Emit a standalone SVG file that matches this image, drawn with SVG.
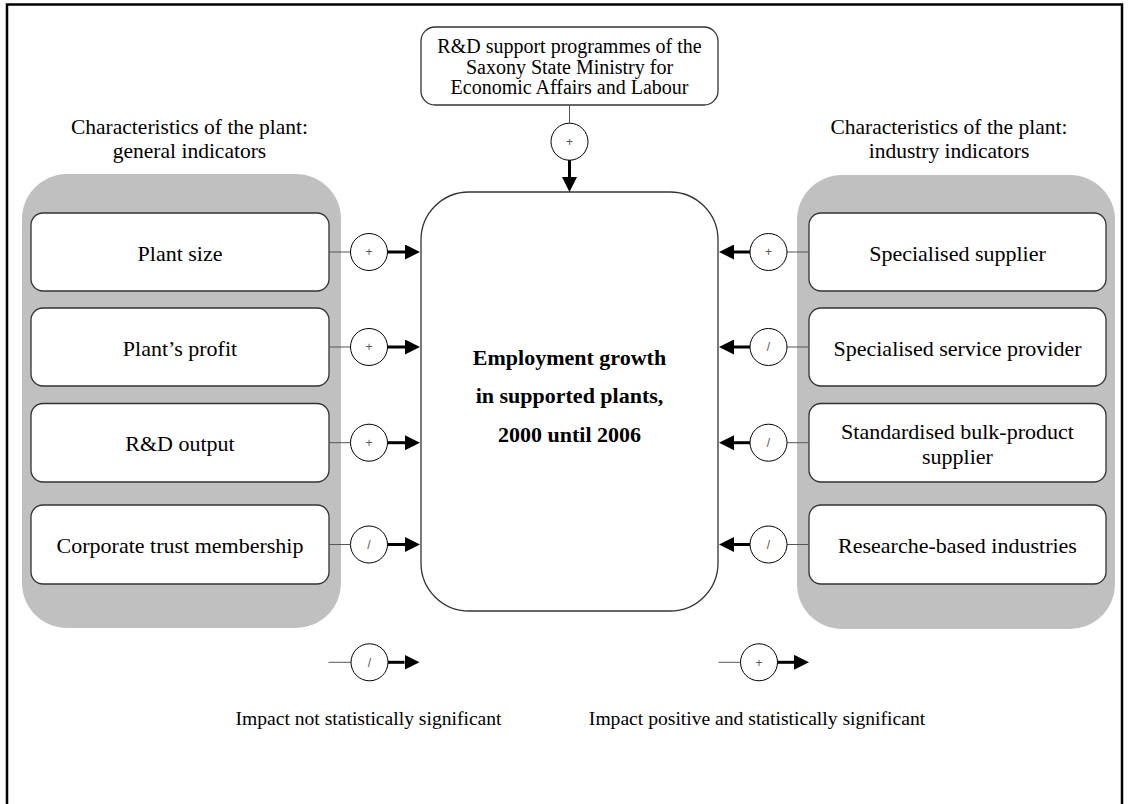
<svg xmlns="http://www.w3.org/2000/svg" width="1128" height="804" viewBox="0 0 1128 804">
<defs>
<style>
.t{font-family:"Liberation Serif","Times New Roman",serif;font-size:22px;fill:#000;text-anchor:middle}
.ttl{font-size:21.5px}
.top{font-size:20px}
.b{font-weight:bold}
.leg{font-size:19.6px}
.panel{fill:#c0c0c0;stroke:none}
.box{fill:#fff;stroke:#333;stroke-width:1.3}
.sig{fill:#fff;stroke:#000;stroke-width:1}
.sym{font-family:"Liberation Sans",Arial,sans-serif;font-size:12px;fill:#555;text-anchor:middle}
.thin{stroke:#555;stroke-width:1;fill:none}
.thick{stroke:#000;stroke-width:3;fill:none;marker-end:url(#ah)}
</style>
<marker id="ah" markerUnits="userSpaceOnUse" markerWidth="15" markerHeight="15" refX="0" refY="7.5" orient="auto" viewBox="0 0 15 15">
<path d="M0,0 L15,7.5 L0,15 z" fill="#000"/>
</marker>
</defs>
<rect x="7" y="4.5" width="1115" height="830" fill="#fff" stroke="#000" stroke-width="2.5"/>

<g id="panel-left">
<rect class="panel" x="22" y="174" width="319" height="454" rx="45"/>
<text class="t ttl" x="189.5" y="134">Characteristics of the plant:</text>
<text class="t ttl" x="189.5" y="157.5">general indicators</text>
</g>
<g id="panel-right">
<rect class="panel" x="797" y="175" width="318" height="454" rx="45"/>
<text class="t ttl" x="949" y="134">Characteristics of the plant:</text>
<text class="t ttl" x="949" y="157.5">industry indicators</text>
</g>

<g id="node-programmes">
<rect class="box" x="421" y="27" width="297" height="78" rx="14"/>
<text class="t top" x="569.5" y="53">R&amp;D support programmes of the</text>
<text class="t top" x="569.5" y="73.5">Saxony State Ministry for</text>
<text class="t top" x="569.5" y="94">Economic Affairs and Labour</text>
</g>

<g id="node-employment">
<rect class="box" x="421" y="192" width="297" height="419" rx="48"/>
<text class="t b" x="569.5" y="365">Employment growth</text>
<text class="t b" x="569.5" y="403">in supported plants,</text>
<text class="t b" x="569.5" y="441.5">2000 until 2006</text>
</g>

<g id="node-plant-size">
<rect class="box" x="31" y="213" width="298" height="78" rx="12"/>
<text class="t" x="180" y="260.5">Plant size</text>
</g>
<g id="node-plant-profit">
<rect class="box" x="31" y="308" width="298" height="78" rx="12"/>
<text class="t" x="180" y="355.5">Plant’s profit</text>
</g>
<g id="node-rd-output">
<rect class="box" x="31" y="403.5" width="298" height="78.5" rx="12"/>
<text class="t" x="180" y="451">R&amp;D output</text>
</g>
<g id="node-corporate">
<rect class="box" x="31" y="505" width="298" height="79" rx="12"/>
<text class="t" x="180" y="553">Corporate trust membership</text>
</g>

<g id="node-spec-supplier">
<rect class="box" x="809" y="213" width="297" height="78" rx="12"/>
<text class="t" x="957.5" y="260.5">Specialised supplier</text>
</g>
<g id="node-spec-service">
<rect class="box" x="809" y="308" width="297" height="78" rx="12"/>
<text class="t" x="957.5" y="355.5">Specialised service provider</text>
</g>
<g id="node-bulk">
<rect class="box" x="809" y="403.5" width="297" height="78.5" rx="12"/>
<text class="t" x="957.5" y="438.5">Standardised bulk-product</text>
<text class="t" x="957.5" y="463.5">supplier</text>
</g>
<g id="node-research">
<rect class="box" x="809" y="505" width="297" height="79" rx="12"/>
<text class="t" x="957.5" y="553">Researche-based industries</text>
</g>

<g id="connectors">
<line class="thin" x1="569.5" y1="105" x2="569.5" y2="123.2"/>
<circle class="sig" cx="569.5" cy="141.7" r="18.5"/>
<text class="sym" x="569.5" y="146">+</text>
<line class="thick" x1="569.5" y1="160.2" x2="569.5" y2="177"/>

<line class="thin" x1="329" y1="252" x2="350.5" y2="252"/>
<circle class="sig" cx="369" cy="252" r="18.5"/>
<text class="sym" x="369" y="256.3">+</text>
<line class="thick" x1="387.5" y1="252" x2="405" y2="252"/>

<line class="thin" x1="329" y1="347" x2="350.5" y2="347"/>
<circle class="sig" cx="369" cy="347" r="18.5"/>
<text class="sym" x="369" y="351.3">+</text>
<line class="thick" x1="387.5" y1="347" x2="405" y2="347"/>

<line class="thin" x1="329" y1="442.7" x2="350.5" y2="442.7"/>
<circle class="sig" cx="369" cy="442.7" r="18.5"/>
<text class="sym" x="369" y="447">+</text>
<line class="thick" x1="387.5" y1="442.7" x2="405" y2="442.7"/>

<line class="thin" x1="329" y1="544.5" x2="350.5" y2="544.5"/>
<circle class="sig" cx="369" cy="544.5" r="18.5"/>
<text class="sym" x="369" y="548.8">/</text>
<line class="thick" x1="387.5" y1="544.5" x2="405" y2="544.5"/>

<line class="thin" x1="809" y1="252" x2="787" y2="252"/>
<circle class="sig" cx="768.5" cy="252" r="18.5"/>
<text class="sym" x="768.5" y="256.3">+</text>
<line class="thick" x1="750" y1="252" x2="734" y2="252"/>

<line class="thin" x1="809" y1="347" x2="787" y2="347"/>
<circle class="sig" cx="768.5" cy="347" r="18.5"/>
<text class="sym" x="768.5" y="351.3">/</text>
<line class="thick" x1="750" y1="347" x2="734" y2="347"/>

<line class="thin" x1="809" y1="442.7" x2="787" y2="442.7"/>
<circle class="sig" cx="768.5" cy="442.7" r="18.5"/>
<text class="sym" x="768.5" y="447">/</text>
<line class="thick" x1="750" y1="442.7" x2="734" y2="442.7"/>

<line class="thin" x1="809" y1="544.5" x2="787" y2="544.5"/>
<circle class="sig" cx="768.5" cy="544.5" r="18.5"/>
<text class="sym" x="768.5" y="548.8">/</text>
<line class="thick" x1="750" y1="544.5" x2="734" y2="544.5"/>
</g>

<g id="legend-not-significant">
<line class="thin" x1="328.5" y1="662.3" x2="351" y2="662.3"/>
<circle class="sig" cx="369.5" cy="662.3" r="18.5"/>
<text class="sym" x="369.5" y="666.6">/</text>
<line class="thick" x1="388" y1="662.3" x2="404.5" y2="662.3"/>
<text class="t leg" x="368.5" y="725">Impact not statistically significant</text>
</g>
<g id="legend-positive">
<line class="thin" x1="718.5" y1="662.3" x2="740.5" y2="662.3"/>
<circle class="sig" cx="759" cy="662.3" r="18.5"/>
<text class="sym" x="759" y="666.6">+</text>
<line class="thick" x1="777.5" y1="662.3" x2="794" y2="662.3"/>
<text class="t leg" x="757" y="725">Impact positive and statistically significant</text>
</g>
</svg>
